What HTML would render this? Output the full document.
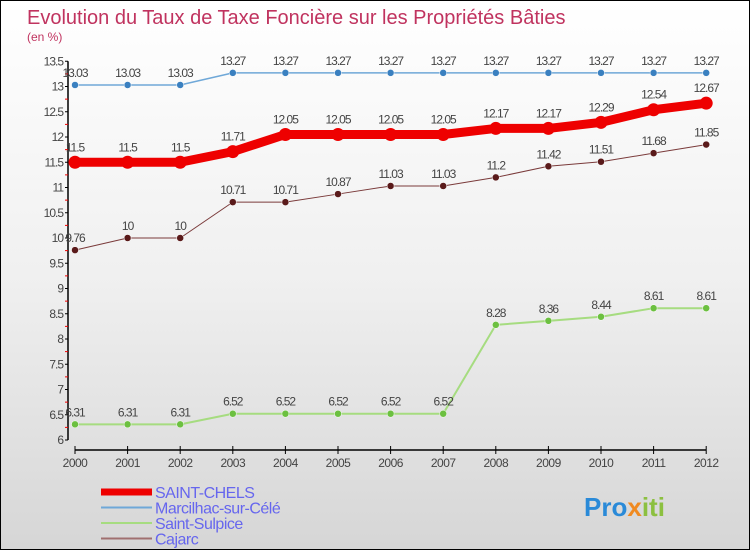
<!DOCTYPE html>
<html><head><meta charset="utf-8"><style>
body{margin:0}
#c{width:748px;height:548px;border:1px solid #000;background:linear-gradient(#ffffff,#f0f0f0 50%,#d6d6d6);position:relative;overflow:hidden;font-family:"Liberation Sans",sans-serif}
</style></head><body>
<div id="c">
<svg id="s" width="748" height="548" xmlns="http://www.w3.org/2000/svg" style="position:absolute;left:0;top:0">
<text x="26" y="23" font-size="20" fill="#c0335f">Evolution du Taux de Taxe Foncière sur les Propriétés Bâties</text>
<text x="26" y="40" font-size="12" fill="#c0335f">(en %)</text>
<g id="axes"></g><g id="series"></g><g id="legend"></g>
</svg></div>
<script>
const years=["2000","2001","2002","2003","2004","2005","2006","2007","2008","2009","2010","2011","2012"];
const yTicks=[6,6.5,7,7.5,8,8.5,9,9.5,10,10.5,11,11.5,12,12.5,13,13.5];
const saintChels=[11.5,11.5,11.5,11.71,12.05,12.05,12.05,12.05,12.17,12.17,12.29,12.54,12.67];
const marcilhac=[13.03,13.03,13.03,13.27,13.27,13.27,13.27,13.27,13.27,13.27,13.27,13.27,13.27];
const saintSulpice=[6.31,6.31,6.31,6.52,6.52,6.52,6.52,6.52,8.28,8.36,8.44,8.61,8.61];
const cajarc=[9.76,10,10,10.71,10.71,10.87,11.03,11.03,11.2,11.42,11.51,11.68,11.85];
const seriesNames=["SAINT-CHELS","Marcilhac-sur-Célé","Saint-Sulpice","Cajarc"];
const NS="http://www.w3.org/2000/svg";
const X=i=>74+i*52.6;
const Y=v=>439-(v-6)*50.5;
function mk(tag,attrs,parent,txt){const e=document.createElementNS(NS,tag);for(const k in attrs)e.setAttribute(k,attrs[k]);if(txt!==undefined)e.textContent=txt;parent.appendChild(e);return e;}
const ax=document.getElementById('axes');
let yl=mk('line',{x1:67,y1:Y(13.5),x2:67,y2:Y(6),stroke:'#000','stroke-width':1.5},ax);


yTicks.forEach(t=>{
 mk('line',{x1:64,y1:Y(t),x2:67,y2:Y(t),stroke:'#000'},ax);
 if(t<13.5)mk('line',{x1:64,y1:Y(t+0.25),x2:67,y2:Y(t+0.25),stroke:'#e00'},ax);
 let l=mk('text',{x:62,y:Y(t)+4,'font-size':12,fill:'#444','text-anchor':'end','letter-spacing':'-1'},ax,String(t));
 
 
});
let xl=mk('line',{x1:X(0),y1:449,x2:X(12),y2:449,stroke:'#000','stroke-width':1.5},ax);


years.forEach((yr,i)=>{
 mk('line',{x1:X(i),y1:445,x2:X(i),y2:453,stroke:'#000'},ax);
 let l=mk('text',{x:X(i),y:466,'font-size':12,fill:'#444','text-anchor':'middle','letter-spacing':'-0.5'},ax,yr);
 
 
});
const sg=document.getElementById('series');
const cfg=[[marcilhac,'#6fa8d8',1.5,'#3a80c0',3.5,'marcilhac'],[cajarc,'#7a3a3a',1,'#5a1a1a',3.5,'cajarc'],[saintSulpice,'#a6dc80',2,'#6cc040',3.5,'saint-sulpice'],[saintChels,'#ee0000',9,'#ee0000',6.5,'saint-chels']];
cfg.forEach(([d,c,w,mc,r,n])=>{
 const g=mk('g',{},sg);
 
 
 mk('polyline',{points:d.map((v,i)=>X(i)+','+Y(v)).join(' '),fill:'none',stroke:c,'stroke-width':w,'stroke-linejoin':'round'},g);
 d.forEach((v,i)=>{
  const p=mk('circle',{cx:X(i),cy:Y(v),r:r,fill:mc,stroke:n=='saint-chels'?'none':'#fff','stroke-width':0.5},g);
  
  
  const t=mk('text',{x:X(i),y:Y(v)-(n=='saint-chels'?11:8),'font-size':12,fill:'#444','text-anchor':'middle','letter-spacing':'-1'},g,String(v));
  
  
 });
});
const lg=document.getElementById('legend');
const lc=[['#ee0000',7],['#6fa8d8',2],['#a6dc80',2],['#a07070',2]];
seriesNames.forEach((nm,i)=>{
 const y=491+i*15.5;
 const g=mk('g',{},lg);
 
 
 mk('line',{x1:100,y1:y,x2:151,y2:y,stroke:lc[i][0],'stroke-width':lc[i][1]},g);
 mk('text',{x:154,y:y+6,'font-size':16,fill:'#6666ee','letter-spacing':'-0.5'},g,nm);
});
const lo=mk('text',{x:583,y:515,'font-size':26,'font-weight':'bold',fill:'#2a8ad8'},lg);


mk('tspan',{fill:'#2a8ad8'},lo,'Pro');
mk('tspan',{fill:'#f08a20'},lo,'x');
mk('tspan',{fill:'#8cc040'},lo,'iti');
</script>
</body></html>
